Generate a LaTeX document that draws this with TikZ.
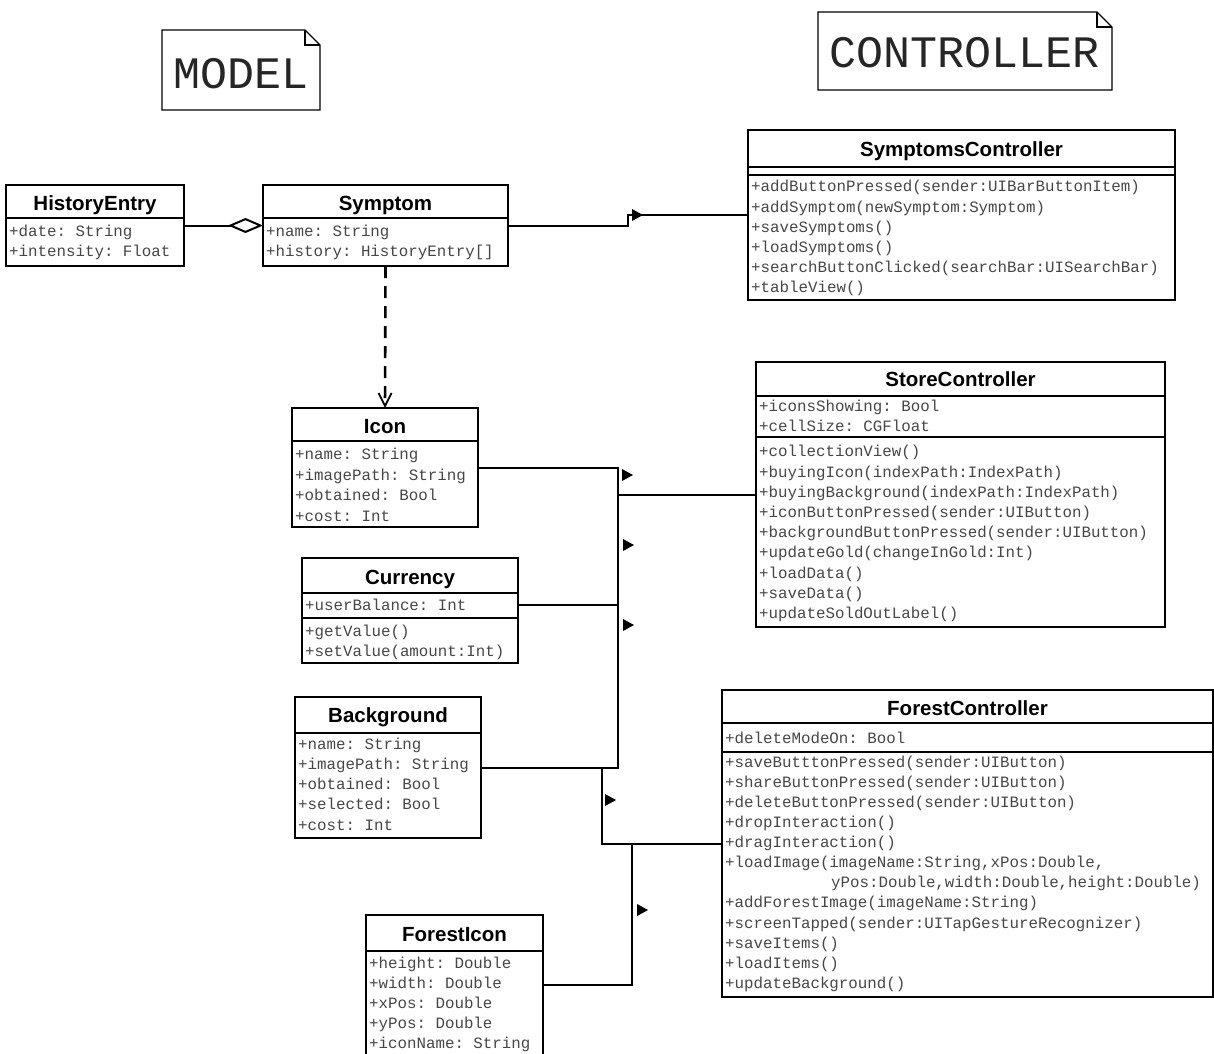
\documentclass[tikz,border=0pt]{standalone}
\usepackage{fontspec}
\setmainfont{Liberation Sans}
\setmonofont{Liberation Mono}
\usetikzlibrary{calc,arrows.meta}
\begin{document}
\begin{tikzpicture}[x=1pt,y=-1pt,
  box/.style={draw, line width=2pt, fill=white, inner sep=0pt, outer sep=0pt, anchor=north west},
  ttl/.style={font=\fontsize{20.5}{24}\selectfont\bfseries, inner sep=0pt, text height=14pt, text depth=0pt},
  row/.style={font=\fontsize{15.8}{18}\selectfont\ttfamily, inner sep=0pt, anchor=west, text height=11pt, text depth=3pt, text=black!72},
  conn/.style={line width=2pt},
  sepline/.style={line width=2pt},
  nav/.style={fill=black, draw=none},
  notebox/.style={inner sep=0pt, outer sep=0pt, anchor=north west, draw=none},
  notetext/.style={font=\fontsize{45}{50}\selectfont\ttfamily, inner sep=0pt, text=black!85},
]
\useasboundingbox (0,0) rectangle (1214,1053);
\fill[white] (0,0) rectangle (1214,1053);
\clip (0,0) rectangle (1214,1053);

% ---------- notes ----------
\node[notebox, minimum width=158pt, minimum height=80pt] (model) at (162,30) {};
\draw[line width=1.2pt] (model.north west) -- ($(model.north east)+(-15,0)$) -- ($(model.north east)+(0,15)$) -- (model.south east) -- (model.south west) -- cycle;
\draw[line width=1.2pt] ($(model.north east)+(-15,0)$) |- ($(model.north east)+(0,15)$);
\node[notetext] (modeltxt) at ($(model.center)+(0,4)$) {MODEL};

\node[notebox, minimum width=294pt, minimum height=78pt] (ctrl) at (818,12) {};
\draw[line width=1.2pt] (ctrl.north west) -- ($(ctrl.north east)+(-15,0)$) -- ($(ctrl.north east)+(0,15)$) -- (ctrl.south east) -- (ctrl.south west) -- cycle;
\draw[line width=1.2pt] ($(ctrl.north east)+(-15,0)$) |- ($(ctrl.north east)+(0,15)$);
\node[notetext] (ctrltxt) at ($(ctrl.center)+(0,2)$) {CONTROLLER};

% ---------- HistoryEntry ----------
\node[box, minimum width=178pt, minimum height=81pt] (he) at (6,185) {};
\draw[sepline] ($(he.north west)+(0,33)$) -- ($(he.north east)+(0,33)$);
\node[ttl] (het) at ($(he.north)+(0,18)$) {HistoryEntry};
\node[row] (he1) at (9,232) {+date: String};
\node[row] (he2) at (9,252) {+intensity: Float};

% ---------- Symptom ----------
\node[box, minimum width=245pt, minimum height=81pt] (sym) at (263,185) {};
\draw[sepline] ($(sym.north west)+(0,33)$) -- ($(sym.north east)+(0,33)$);
\node[ttl] (symt) at ($(sym.north)+(0,18)$) {Symptom};
\node[row] (sym1) at (266,232) {+name: String};
\node[row] (sym2) at (266,252) {+history: HistoryEntry[]};

% ---------- SymptomsController ----------
\node[box, minimum width=427pt, minimum height=170pt] (sc) at (748,130) {};
\draw[sepline] ($(sc.north west)+(0,37)$) -- ($(sc.north east)+(0,37)$);
\draw[sepline] ($(sc.north west)+(0,45)$) -- ($(sc.north east)+(0,45)$);
\node[ttl] (sct) at ($(sc.north)+(0,19)$) {SymptomsController};
\node[row] (sc1) at (751,187) {+addButtonPressed(sender:UIBarButtonItem)};
\node[row] (sc2) at (751,208) {+addSymptom(newSymptom:Symptom)};
\node[row] (sc3) at (751,228) {+saveSymptoms()};
\node[row] (sc4) at (751,248) {+loadSymptoms()};
\node[row] (sc5) at (751,268) {+searchButtonClicked(searchBar:UISearchBar)};
\node[row] (sc6) at (751,288) {+tableView()};

% ---------- Icon ----------
\node[box, minimum width=186pt, minimum height=119pt] (icon) at (292,408) {};
\draw[sepline] ($(icon.north west)+(0,33)$) -- ($(icon.north east)+(0,33)$);
\node[ttl] (icont) at ($(icon.north)+(0,18)$) {Icon};
\node[row] (icon1) at (295,455) {+name: String};
\node[row] (icon2) at (295,476) {+imagePath: String};
\node[row] (icon3) at (295,496) {+obtained: Bool};
\node[row] (icon4) at (295,517) {+cost: Int};

% ---------- StoreController ----------
\node[box, minimum width=409pt, minimum height=265pt] (store) at (756,362) {};
\draw[sepline] ($(store.north west)+(0,34)$) -- ($(store.north east)+(0,34)$);
\draw[sepline] ($(store.north west)+(0,75)$) -- ($(store.north east)+(0,75)$);
\node[ttl] (storet) at ($(store.north)+(0,17)$) {StoreController};
\node[row] (st1) at (759,407) {+iconsShowing: Bool};
\node[row] (st2) at (759,427) {+cellSize: CGFloat};
\node[row] (st3) at (759,452) {+collectionView()};
\node[row] (st4) at (759,473) {+buyingIcon(indexPath:IndexPath)};
\node[row] (st5) at (759,493) {+buyingBackground(indexPath:IndexPath)};
\node[row] (st6) at (759,513) {+iconButtonPressed(sender:UIButton)};
\node[row] (st7) at (759,533) {+backgroundButtonPressed(sender:UIButton)};
\node[row] (st8) at (759,553) {+updateGold(changeInGold:Int)};
\node[row] (st9) at (759,574) {+loadData()};
\node[row] (st10) at (759,594) {+saveData()};
\node[row] (st11) at (759,614) {+updateSoldOutLabel()};

% ---------- Currency ----------
\node[box, minimum width=216pt, minimum height=105pt] (cur) at (302,558) {};
\draw[sepline] ($(cur.north west)+(0,35)$) -- ($(cur.north east)+(0,35)$);
\draw[sepline] ($(cur.north west)+(0,60)$) -- ($(cur.north east)+(0,60)$);
\node[ttl] (curt) at ($(cur.north)+(0,19)$) {Currency};
\node[row] (cur1) at (305,606) {+userBalance: Int};
\node[row] (cur2) at (305,632) {+getValue()};
\node[row] (cur3) at (305,652) {+setValue(amount:Int)};

% ---------- Background ----------
\node[box, minimum width=186pt, minimum height=141pt] (bg) at (295,697) {};
\draw[sepline] ($(bg.north west)+(0,36)$) -- ($(bg.north east)+(0,36)$);
\node[ttl] (bgt) at ($(bg.north)+(0,18)$) {Background};
\node[row] (bg1) at (298,745) {+name: String};
\node[row] (bg2) at (298,765) {+imagePath: String};
\node[row] (bg3) at (298,785) {+obtained: Bool};
\node[row] (bg4) at (298,805) {+selected: Bool};
\node[row] (bg5) at (298,826) {+cost: Int};

% ---------- ForestController ----------
\node[box, minimum width=491pt, minimum height=307pt] (fc) at (722,690) {};
\draw[sepline] ($(fc.north west)+(0,33)$) -- ($(fc.north east)+(0,33)$);
\draw[sepline] ($(fc.north west)+(0,62)$) -- ($(fc.north east)+(0,62)$);
\node[ttl] (fct) at ($(fc.north)+(0,18)$) {ForestController};
\node[row] (fc1) at (725,739) {+deleteModeOn: Bool};
\node[row] (fc2) at (725,763) {+saveButttonPressed(sender:UIButton)};
\node[row] (fc3) at (725,783) {+shareButtonPressed(sender:UIButton)};
\node[row] (fc4) at (725,803) {+deleteButtonPressed(sender:UIButton)};
\node[row] (fc5) at (725,823) {+dropInteraction()};
\node[row] (fc6) at (725,843) {+dragInteraction()};
\node[row] (fc7) at (725,863) {+loadImage(imageName:String,xPos:Double,};
\node[row] (fc8) at (831,883) {yPos:Double,width:Double,height:Double)};
\node[row] (fc9) at (725,903) {+addForestImage(imageName:String)};
\node[row] (fc10) at (725,924) {+screenTapped(sender:UITapGestureRecognizer)};
\node[row] (fc11) at (725,944) {+saveItems()};
\node[row] (fc12) at (725,964) {+loadItems()};
\node[row] (fc13) at (725,984) {+updateBackground()};

% ---------- ForestIcon ----------
\node[box, minimum width=177pt, minimum height=140pt] (fi) at (366,915) {};
\draw[sepline] ($(fi.north west)+(0,36)$) -- ($(fi.north east)+(0,36)$);
\node[ttl] (fit) at ($(fi.north)+(0,19)$) {ForestIcon};
\node[row] (fi1) at (369,964) {+height: Double};
\node[row] (fi2) at (369,984) {+width: Double};
\node[row] (fi3) at (369,1004) {+xPos: Double};
\node[row] (fi4) at (369,1024) {+yPos: Double};
\node[row] (fi5) at (369,1044) {+iconName: String};

% ---------- connectors ----------
\draw[conn, {Diamond[open, length=35pt, width=15pt, line width=2pt]}-] (sym.west) -- (he.east);

\draw[conn] (sym.east) -| ($(sc.west)+(-120,0)$) -- (sc.west);
\fill[nav] (632,209) -- (643,215) -- (632,221) -- cycle;

\draw[line width=2.6pt, dash pattern=on 12pt off 8pt, -{Straight Barb[length=13pt, width=13pt, line width=1.8pt]}] (sym.south) -- (icon.north);

\coordinate (bus) at ($(store.west)+(-138,0)$);
\draw[conn] (icon.east) -| (bus) -- (store.west);
\draw[conn] ($(cur.east)+(0,-6)$) -| (bus);
\draw[conn] (bg.east) -| (bus);
\coordinate (fork) at ($(bg.east)+(121,0)$);
\draw[conn] (fork) |- (fc.west);
\draw[conn] (fi.east) -| ($(fc.west)+(-90,0)$);

\fill[nav] (622,469) -- (633,475) -- (622,481) -- cycle;
\fill[nav] (623,539) -- (634,545) -- (623,551) -- cycle;
\fill[nav] (623,619) -- (634,625) -- (623,631) -- cycle;
\fill[nav] (605,794) -- (616,800) -- (605,806) -- cycle;
\fill[nav] (637,904) -- (648,910) -- (637,916) -- cycle;
\end{tikzpicture}
\end{document}
